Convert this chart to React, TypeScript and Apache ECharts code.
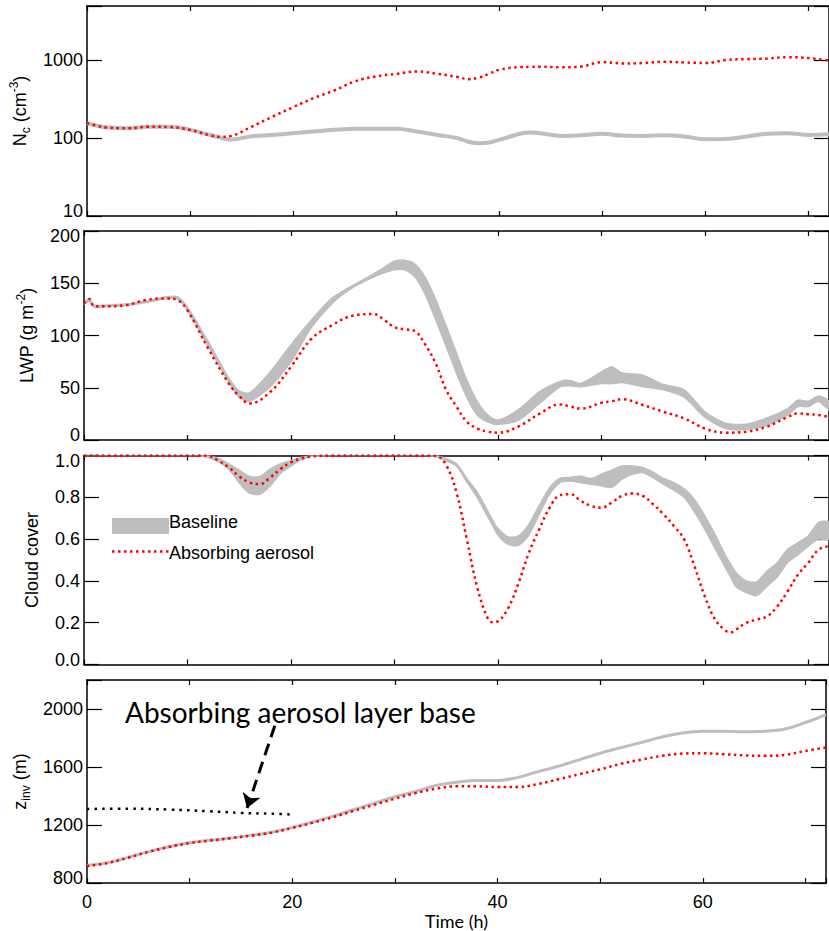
import React, { useEffect, useRef } from 'react';
import * as echarts from 'echarts';

// ---- Panel 1: droplet number concentration Nc (cm^-3), log scale ----
const hoursN = [0, 1, 2, 4, 6, 8, 10, 12, 13, 14, 16, 18, 20, 22, 24, 26, 28, 30, 32, 34, 36, 37, 38, 39, 40, 42, 43, 44, 46, 48, 50, 52, 54, 56, 58, 60, 62, 64, 66, 68, 70, 72];
const nBaseline = [156, 144, 137, 134, 140, 140, 128, 110, 101, 96, 106, 110, 116, 122, 128, 132, 132, 132, 122, 110, 100, 90, 86, 88, 95, 114, 118, 116, 107, 109, 114, 108, 107, 109, 105, 97, 98, 105, 114, 116, 110, 112];
const nAbsorbing = [156, 144, 137, 134, 140, 139, 128, 108, 104, 107, 141, 189, 250, 328, 411, 537, 621, 670, 720, 672, 610, 574, 600, 670, 757, 820, 826, 828, 815, 835, 951, 912, 925, 960, 940, 925, 1010, 1040, 1055, 1100, 1070, 1000];

// ---- Panel 2: LWP (g m^-2) ----
const hoursLwp = [0, 0.5, 1, 2, 4, 6, 8, 9, 10, 12, 14, 15, 16, 18, 20, 22, 24, 26, 28, 29, 30, 31, 32, 33, 34, 35, 36, 37, 38, 39, 40, 42, 44, 46, 47, 48, 50, 51, 52, 54, 56, 58, 60, 62, 64, 66, 68, 69, 70, 71, 72];
const lwpBaseHi = [131.5, 135, 129, 129, 130, 133, 137, 137, 127, 94, 59, 47, 45, 65, 91, 115, 136, 148, 159, 165, 171, 172, 168, 155, 134, 109, 83, 57, 37, 24, 19, 29, 46, 56, 57, 54, 65, 70, 64, 62, 53, 48, 27, 16, 15, 21, 30, 38, 37, 42, 37];
const lwpBaseLo = [130, 133, 127, 127.5, 128.5, 131.5, 135.5, 135, 124, 90, 55, 41, 37, 51, 75, 108, 131, 146, 156, 160, 163, 163, 156, 139, 115, 90, 64, 41, 24, 17.5, 15, 19, 35, 51, 52, 51, 54, 54, 55, 51, 48, 41, 22, 11, 10, 14, 24, 32, 32, 37, 29];
const lwpAbsorbing = [130.7, 135, 128, 128, 129, 134, 135.5, 134, 124, 87.6, 54, 42, 35, 46, 70, 97, 110, 119, 120.5, 115, 108, 106, 104, 91, 73, 48, 32, 17.5, 11, 8, 7, 13, 25, 34, 32, 30, 35.6, 37, 39, 33.5, 27, 20.7, 11, 7, 8, 12.7, 22, 25.5, 24.6, 24, 22];

// ---- Panel 3: cloud cover ----
const hoursCloud = [0, 4, 8, 10, 11, 12, 13, 14, 15, 16, 17, 18, 19, 20, 21, 22, 24, 28, 32, 33, 34, 35, 36, 37, 38, 39, 39.5, 40, 41, 42, 43, 44, 45, 46, 47, 48, 49, 50, 51, 52, 53, 54, 55, 56, 57, 58, 59, 60, 61, 62, 62.5, 63, 64, 65, 66, 67, 68, 69, 70, 71, 72];
const cloudBaseHi = [1, 1, 1, 1, 1, 1, 0.985, 0.96, 0.93, 0.9, 0.9, 0.935, 0.96, 0.975, 0.99, 1, 1, 1, 1, 1, 1, 0.985, 0.96, 0.89, 0.825, 0.735, 0.69, 0.65, 0.61, 0.615, 0.67, 0.76, 0.845, 0.89, 0.895, 0.9, 0.89, 0.91, 0.93, 0.95, 0.95, 0.943, 0.92, 0.89, 0.87, 0.84, 0.79, 0.71, 0.62, 0.52, 0.48, 0.44, 0.4, 0.395, 0.446, 0.487, 0.55, 0.583, 0.615, 0.68, 0.68];
const cloudBaseLo = [1, 1, 1, 1, 1, 0.99, 0.97, 0.935, 0.87, 0.82, 0.815, 0.855, 0.915, 0.95, 0.98, 0.995, 1, 1, 1, 1, 0.995, 0.975, 0.95, 0.874, 0.8, 0.71, 0.665, 0.62, 0.575, 0.57, 0.62, 0.72, 0.815, 0.87, 0.878, 0.87, 0.863, 0.855, 0.848, 0.887, 0.91, 0.919, 0.895, 0.863, 0.835, 0.8, 0.73, 0.647, 0.555, 0.463, 0.42, 0.374, 0.345, 0.33, 0.374, 0.42, 0.488, 0.526, 0.567, 0.6, 0.6];
const cloudAbsorbing = [1, 1, 1, 1, 1, 0.998, 0.975, 0.943, 0.9, 0.871, 0.863, 0.895, 0.935, 0.967, 0.985, 0.995, 1, 1, 1, 1, 0.998, 0.954, 0.823, 0.599, 0.37, 0.223, 0.202, 0.207, 0.27, 0.391, 0.535, 0.647, 0.75, 0.81, 0.815, 0.783, 0.759, 0.75, 0.775, 0.807, 0.818, 0.807, 0.767, 0.719, 0.663, 0.599, 0.47, 0.326, 0.215, 0.162, 0.154, 0.167, 0.199, 0.215, 0.23, 0.278, 0.35, 0.43, 0.487, 0.55, 0.566];

// ---- Panel 4: inversion height z_inv (m) ----
const hoursZ = [0, 2, 4, 6, 8, 10, 12, 14, 16, 18, 20, 22, 24, 26, 28, 30, 32, 34, 36, 38, 40, 42, 44, 46, 48, 50, 52, 54, 56, 58, 60, 62, 64, 66, 68, 70, 72];
const zBaseline = [922, 940, 977, 1017, 1051, 1078, 1095, 1111, 1129, 1151, 1184, 1222, 1262, 1307, 1351, 1395, 1432, 1473, 1495, 1507, 1507, 1529, 1569, 1607, 1651, 1695, 1733, 1769, 1807, 1835, 1847, 1847, 1844, 1847, 1862, 1907, 1962];
const zAbsorbing = [918, 938, 975, 1015, 1049, 1076, 1093, 1109, 1127, 1148, 1180, 1216, 1255, 1298, 1340, 1382, 1420, 1451, 1467, 1467, 1462, 1462, 1484, 1517, 1551, 1584, 1622, 1651, 1677, 1693, 1695, 1689, 1680, 1677, 1684, 1711, 1735];
const hoursAerosol = [0, 4, 8, 12, 15, 18, 20];
const aerosolBase = [1311, 1313, 1307, 1295, 1284, 1278, 1273];
const arrowFrom = [18.3, 1884];
const arrowTo = [15.6, 1317];

const legendLabels = ['Baseline', 'Absorbing aerosol'];
const annotationText = 'Absorbing aerosol layer base';

const FONT = "'Liberation Sans', Arial, Helvetica, sans-serif";
const FONT2 = "Lato, 'Open Sans', sans-serif";
const GRAY = '#bebebe';
const RED = '#ff0000';

const pairs = (xs: number[], ys: number[]) => xs.map((x, i) => [x, ys[i]]);

// band between lo and hi drawn with the axes' own coordinate mapping
const bandSeries = (axisIdx: number, hours: number[], lo: number[], hi: number[]) => ({
  type: 'custom',
  xAxisIndex: axisIdx,
  yAxisIndex: axisIdx,
  clip: true,
  silent: true,
  z: 2,
  data: [[hours[0], lo[0], hi[0]]],
  renderItem: (_params: any, api: any) => {
    const top = hours.map((h, i) => api.coord([h, hi[i]]));
    const bot = hours.map((h, i) => api.coord([h, lo[i]])).reverse();
    return {
      type: 'polygon',
      shape: { points: top.concat(bot), smooth: 0.25 },
      style: { fill: GRAY, stroke: GRAY, lineWidth: 1.6 },
    };
  },
});

export default function App() {
  const ref = useRef<HTMLDivElement>(null);
  useEffect(() => {
    const chart = echarts.init(ref.current!, null, { renderer: 'svg' });
    const axisLine = { show: true, onZero: false, lineStyle: { color: '#000', width: 1.5 } };
    const grids = [
      { left: 84, right: -6, top: 6, height: 210 },
      { left: 84, right: -6, top: 231, height: 209 },
      { left: 84, right: -6, top: 455.5, height: 209 },
      { left: 84, right: -6, top: 680, height: 209.3 },
    ];
    const xAxes: any[] = [];
    grids.forEach((_, g) => {
      const last = g === 3;
      xAxes.push({
        type: 'value', gridIndex: g, min: 0, max: 72, interval: 10, position: 'bottom',
        axisLine, axisTick: { inside: true, length: 5, lineStyle: { color: '#000', width: 1.2 } },
        splitLine: { show: false },
        axisLabel: {
          show: last, margin: 10, fontSize: 18, fontFamily: FONT, color: '#000',
          formatter: (v: number) => (v % 20 === 0 ? String(v) : ''),
        },
        name: last ? 'Time (h)' : '', nameLocation: 'middle', nameGap: 25,
        nameTextStyle: { fontSize: 18, fontFamily: FONT2, color: '#000' },
      });
      xAxes.push({
        type: 'value', gridIndex: g, min: 0, max: 72, interval: 10, position: 'top',
        axisLine, axisTick: { inside: true, length: 5, lineStyle: { color: '#000', width: 1.2 } },
        splitLine: { show: false }, axisLabel: { show: false },
      });
    });
    const edgeRich = {
      t: { padding: [10, 0, 0, 0], fontSize: 18, fontFamily: FONT, color: '#000' },
      b: { padding: [0, 0, 10, 0], fontSize: 18, fontFamily: FONT, color: '#000' },
    };
    const nameStyle = {
      fontSize: 18, fontFamily: FONT, color: '#000', lineHeight: 24,
      rich: {
        sub: { fontSize: 12, fontFamily: FONT, color: '#000', verticalAlign: 'bottom' },
        sup: { fontSize: 12, fontFamily: FONT, color: '#000', verticalAlign: 'top' },
      },
    };
    const yDefs: any[] = [
      {
        type: 'log', logBase: 10, min: 10, max: 5000, name: 'N{sub|c} (cm{sup|-3})', nameGap: 49,
        formatter: (v: number) => {
          const r = Math.round(v);
          if (r === 10) return '{b|10}';
          if (r === 100 || r === 1000) return String(r);
          return '';
        },
      },
      {
        type: 'value', min: 0, max: 200, interval: 50, name: 'LWP (g m{sup|-2})', nameGap: 39,
        formatter: (v: number) => (v === 200 ? '{t|200}' : v === 0 ? '{b|0}' : String(v)),
      },
      {
        type: 'value', min: 0, max: 1, interval: 0.2, name: 'Cloud cover', nameGap: 34,
        formatter: (v: number) => {
          if (Math.abs(v - 1) < 1e-6) return '{t|1.0}';
          if (Math.abs(v) < 1e-6) return '{b|0.0}';
          return v.toFixed(1);
        },
      },
      {
        type: 'value', min: 800, max: 2200, interval: 400, name: 'z{sub|inv} (m)', nameGap: 51,
        formatter: (v: number) => (v === 800 ? '{b|800}' : v >= 2200 ? '' : String(v)),
      },
    ];
    const yAxes: any[] = [];
    yDefs.forEach((d, g) => {
      const scale: any = { type: d.type, min: d.min, max: d.max };
      if (d.logBase) scale.logBase = d.logBase;
      if (d.interval) scale.interval = d.interval;
      yAxes.push({
        ...scale, gridIndex: g, position: 'left', axisLine,
        axisTick: { inside: true, length: 15, lineStyle: { color: '#000', width: 1.2 } },
        splitLine: { show: false }, minorTick: { show: false },
        axisLabel: { margin: 4, fontSize: 18, fontFamily: FONT, color: '#000', formatter: d.formatter, rich: edgeRich },
        name: d.name, nameLocation: 'middle', nameRotate: 90, nameGap: d.nameGap, nameTextStyle: nameStyle,
      });
      yAxes.push({
        ...scale, gridIndex: g, position: 'right', axisLine,
        axisTick: { inside: true, length: 15, lineStyle: { color: '#000', width: 1.2 } },
        splitLine: { show: false }, axisLabel: { show: false },
      });
    });

    const redDot = { color: RED, width: 2.5, type: [2.5, 3.5], cap: 'butt' };
    const base = { type: 'line', symbol: 'none', smooth: 0.4, silent: true, z: 3 };
    const series: any[] = [
      { ...base, xAxisIndex: 0, yAxisIndex: 0, data: pairs(hoursN, nBaseline), lineStyle: { color: GRAY, width: 4 } },
      { ...base, xAxisIndex: 0, yAxisIndex: 0, data: pairs(hoursN, nAbsorbing), lineStyle: redDot },

      bandSeries(2, hoursLwp, lwpBaseLo, lwpBaseHi),
      { ...base, xAxisIndex: 2, yAxisIndex: 2, data: pairs(hoursLwp, lwpAbsorbing), lineStyle: redDot },

      bandSeries(4, hoursCloud, cloudBaseLo, cloudBaseHi),
      { ...base, xAxisIndex: 4, yAxisIndex: 4, data: pairs(hoursCloud, cloudAbsorbing), lineStyle: redDot },

      { ...base, xAxisIndex: 6, yAxisIndex: 6, data: pairs(hoursZ, zBaseline), lineStyle: { color: GRAY, width: 3 } },
      { ...base, xAxisIndex: 6, yAxisIndex: 6, data: pairs(hoursZ, zAbsorbing), lineStyle: redDot },
      {
        ...base, xAxisIndex: 6, yAxisIndex: 6, data: pairs(hoursAerosol, aerosolBase),
        lineStyle: { color: '#000', width: 2.5, type: [2.5, 5.2], cap: 'butt' },
        markLine: {
          silent: true, symbol: ['none', 'arrow'], symbolSize: 14, label: { show: false },
          lineStyle: { color: '#000', width: 3, type: [12, 7] },
          data: [[{ coord: arrowFrom }, { coord: arrowTo }]],
        },
      },
    ];

    const graphic: any[] = [
      { type: 'rect', z: 100, shape: { x: 112, y: 518, width: 57, height: 16 }, style: { fill: GRAY } },
      { type: 'line', z: 100, shape: { x1: 112, y1: 551.5, x2: 169, y2: 551.5 }, style: { stroke: RED, lineWidth: 2.5, lineDash: [2.5, 3.5] } },
      { type: 'text', z: 100, x: 169, y: 522, style: { text: legendLabels[0], fontSize: 18, fontFamily: FONT, fill: '#000', verticalAlign: 'middle', align: 'left' } },
      { type: 'text', z: 100, x: 169, y: 553, style: { text: legendLabels[1], fontSize: 18, fontFamily: FONT, fill: '#000', verticalAlign: 'middle', align: 'left' } },
      { type: 'text', z: 100, x: 125, y: 712, style: { text: annotationText, fontSize: 28, fontFamily: FONT2, fill: '#000', verticalAlign: 'middle', align: 'left' } },
    ];

    chart.setOption({
      animation: false,
      backgroundColor: '#fff',
      grid: grids,
      xAxis: xAxes,
      yAxis: yAxes,
      series,
      graphic,
    });
    return () => chart.dispose();
  }, []);
  return <div ref={ref} style={{ position: 'absolute', left: 0, top: 0, width: 829, height: 931 }} />;
}
